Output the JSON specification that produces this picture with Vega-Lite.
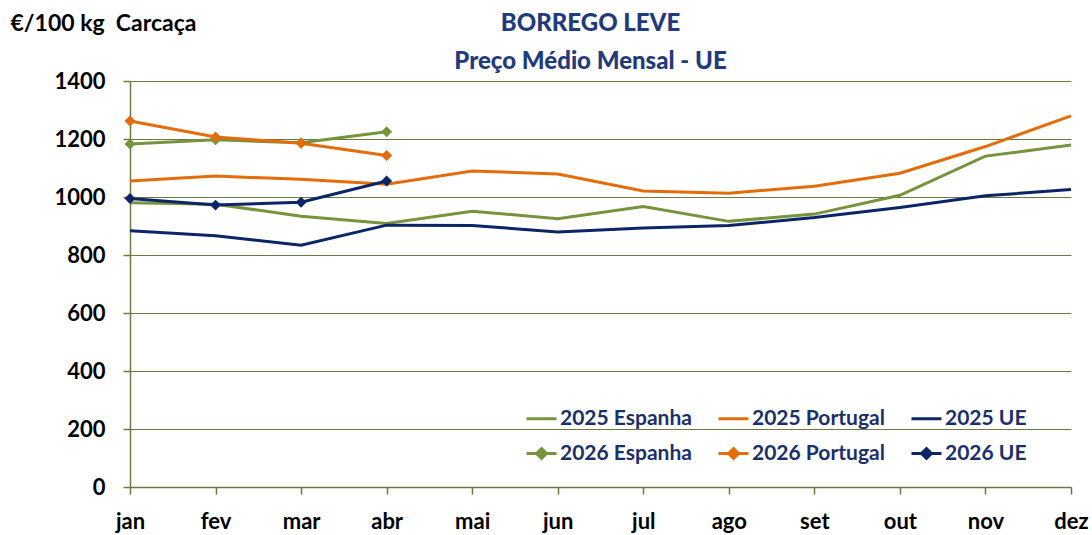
{
  "$schema": "https://vega.github.io/schema/vega-lite/v6.json",
  "width": 941,
  "height": 406,
  "autosize": {"type": "none"},
  "padding": {"left": 130, "top": 81, "right": 21, "bottom": 48},
  "background": "white",
  "config": {
    "font": "Lato",
    "view": {"stroke": null}
  },
  "title": {
    "text": ["BORREGO LEVE", "Preço Médio Mensal - UE"],
    "font": "Lato",
    "fontSize": 24,
    "fontWeight": 900,
    "color": "#1F3A7D",
    "anchor": "middle",
    "dx": -10,
    "lineHeight": 38,
    "offset": -62
  },
  "data": {
    "values": [
      {"month": "jan", "series": "2025 Espanha", "value": 980},
      {"month": "fev", "series": "2025 Espanha", "value": 975},
      {"month": "mar", "series": "2025 Espanha", "value": 934},
      {"month": "abr", "series": "2025 Espanha", "value": 909},
      {"month": "mai", "series": "2025 Espanha", "value": 951},
      {"month": "jun", "series": "2025 Espanha", "value": 925},
      {"month": "jul", "series": "2025 Espanha", "value": 967},
      {"month": "ago", "series": "2025 Espanha", "value": 916},
      {"month": "set", "series": "2025 Espanha", "value": 941},
      {"month": "out", "series": "2025 Espanha", "value": 1006},
      {"month": "nov", "series": "2025 Espanha", "value": 1141},
      {"month": "dez", "series": "2025 Espanha", "value": 1179},
      {"month": "jan", "series": "2025 Portugal", "value": 1055},
      {"month": "fev", "series": "2025 Portugal", "value": 1072},
      {"month": "mar", "series": "2025 Portugal", "value": 1061},
      {"month": "abr", "series": "2025 Portugal", "value": 1044},
      {"month": "mai", "series": "2025 Portugal", "value": 1090},
      {"month": "jun", "series": "2025 Portugal", "value": 1079},
      {"month": "jul", "series": "2025 Portugal", "value": 1021},
      {"month": "ago", "series": "2025 Portugal", "value": 1013},
      {"month": "set", "series": "2025 Portugal", "value": 1037},
      {"month": "out", "series": "2025 Portugal", "value": 1082},
      {"month": "nov", "series": "2025 Portugal", "value": 1174},
      {"month": "dez", "series": "2025 Portugal", "value": 1280},
      {"month": "jan", "series": "2025 UE", "value": 884},
      {"month": "fev", "series": "2025 UE", "value": 866},
      {"month": "mar", "series": "2025 UE", "value": 834},
      {"month": "abr", "series": "2025 UE", "value": 903},
      {"month": "mai", "series": "2025 UE", "value": 902},
      {"month": "jun", "series": "2025 UE", "value": 879},
      {"month": "jul", "series": "2025 UE", "value": 893},
      {"month": "ago", "series": "2025 UE", "value": 902},
      {"month": "set", "series": "2025 UE", "value": 929},
      {"month": "out", "series": "2025 UE", "value": 964},
      {"month": "nov", "series": "2025 UE", "value": 1004},
      {"month": "dez", "series": "2025 UE", "value": 1026},
      {"month": "jan", "series": "2026 Espanha", "value": 1183},
      {"month": "fev", "series": "2026 Espanha", "value": 1197},
      {"month": "mar", "series": "2026 Espanha", "value": 1187},
      {"month": "abr", "series": "2026 Espanha", "value": 1225},
      {"month": "jan", "series": "2026 Portugal", "value": 1262},
      {"month": "fev", "series": "2026 Portugal", "value": 1207},
      {"month": "mar", "series": "2026 Portugal", "value": 1185},
      {"month": "abr", "series": "2026 Portugal", "value": 1143},
      {"month": "jan", "series": "2026 UE", "value": 995},
      {"month": "fev", "series": "2026 UE", "value": 972},
      {"month": "mar", "series": "2026 UE", "value": 982},
      {"month": "abr", "series": "2026 UE", "value": 1055}
    ]
  },
  "encoding": {
    "x": {
      "field": "month",
      "type": "ordinal",
      "sort": ["jan", "fev", "mar", "abr", "mai", "jun", "jul", "ago", "set", "out", "nov", "dez"],
      "scale": {"type": "point", "padding": 0},
      "axis": {
        "title": null,
        "labelAngle": 0,
        "labelFont": "Lato",
        "labelFontSize": 22,
        "labelFontWeight": "bold",
        "labelColor": "#000000",
        "labelPadding": 17,
        "domainColor": "#6B7A45",
        "domainWidth": 1.5,
        "tickColor": "#6B7A45",
        "tickSize": 7,
        "tickWidth": 1.5,
        "grid": false
      }
    },
    "y": {
      "field": "value",
      "type": "quantitative",
      "scale": {"domain": [0, 1400], "nice": false},
      "axis": {
        "values": [0, 200, 400, 600, 800, 1000, 1200, 1400],
        "format": "d",
        "title": "€/100 kg\u00a0 Carcaça",
        "titleAngle": 0,
        "titleAlign": "left",
        "titleBaseline": "alphabetic",
        "titleX": -120,
        "titleY": -51,
        "titleFont": "Lato",
        "titleFontSize": 23,
        "titleFontWeight": "bold",
        "titleColor": "#000000",
        "labelFont": "Lato",
        "labelFontSize": 22,
        "labelFontWeight": "bold",
        "labelColor": "#000000",
        "labelPadding": 18,
        "domainColor": "#6B7A45",
        "domainWidth": 1.5,
        "tickColor": "#6B7A45",
        "tickSize": 7,
        "tickWidth": 1.5,
        "grid": true,
        "gridColor": "#6B7A45",
        "gridWidth": 1.2
      }
    }
  },
  "layer": [
    {
      "mark": {"type": "line", "strokeWidth": 3},
      "encoding": {
        "color": {
          "field": "series",
          "type": "nominal",
          "scale": {
            "domain": ["2025 Espanha", "2026 Espanha", "2025 Portugal", "2026 Portugal", "2025 UE", "2026 UE"],
            "range": ["#77933C", "#77933C", "#E46C0A", "#E46C0A", "#0B2566", "#0B2566"]
          },
          "legend": {
            "title": null,
            "orient": "none",
            "legendX": 395,
            "legendY": 321,
            "columns": 3,
            "columnPadding": 20,
            "rowPadding": 8,
            "labelFont": "Lato",
            "labelFontSize": 21,
            "labelFontWeight": "bold",
            "labelColor": "#1B2F6B",
            "labelOffset": 2,
            "symbolSize": 900,
            "symbolStrokeWidth": 3,
            "symbolType": "stroke",
            "encode": {
              "symbols": {
                "update": {
                  "stroke": {"scale": "color", "field": "value"},
                  "fill": {"scale": "color", "field": "value"},
                  "strokeWidth": {"value": 3}
                }
              }
            }
          }
        },
        "shape": {
          "field": "series",
          "type": "nominal",
          "scale": {
            "domain": ["2025 Espanha", "2026 Espanha", "2025 Portugal", "2026 Portugal", "2025 UE", "2026 UE"],
            "range": [
              "M-1,0L1,0",
              "M-1,0L1,0M-0.33,0L0,-0.33L0.33,0L0,0.33Z",
              "M-1,0L1,0",
              "M-1,0L1,0M-0.33,0L0,-0.33L0.33,0L0,0.33Z",
              "M-1,0L1,0",
              "M-1,0L1,0M-0.33,0L0,-0.33L0.33,0L0,0.33Z"
            ]
          },
          "legend": null
        }
      }
    },
    {
      "transform": [{"filter": "indexof(datum.series, '2026') === 0"}],
      "mark": {"type": "point", "shape": "diamond", "filled": true, "size": 120, "opacity": 1},
      "encoding": {
        "color": {"field": "series", "type": "nominal", "legend": null}
      }
    }
  ]
}
